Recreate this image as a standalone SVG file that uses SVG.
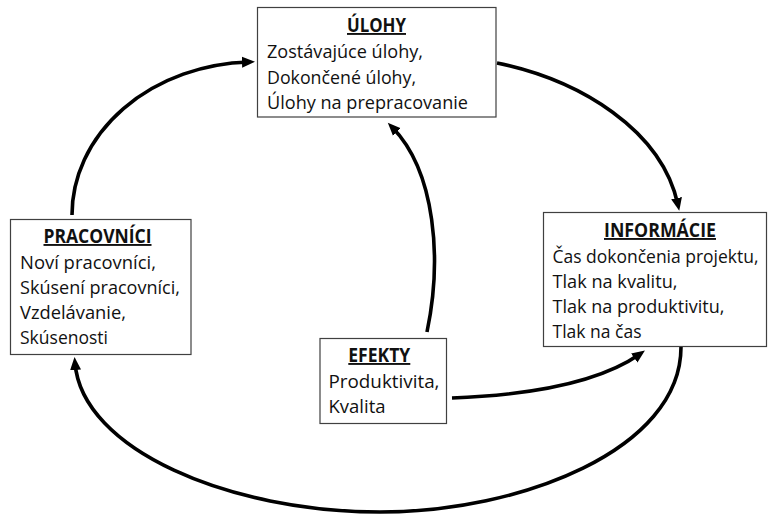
<svg xmlns="http://www.w3.org/2000/svg" width="768" height="514" viewBox="0 0 768 514">
<style>
.box{fill:#fff;stroke:#404040;stroke-width:1.2}
.t{font-family:"Open Sans","Liberation Sans",sans-serif;font-size:19px;fill:#111}
.s{font-size:18px}
.h{font-weight:bold;text-anchor:middle;text-decoration:underline}
.c{fill:none;stroke:#000;stroke-width:3.6;stroke-linecap:butt}
</style>
<defs>
<marker id="ah" markerUnits="userSpaceOnUse" markerWidth="14" markerHeight="12" refX="7" refY="6" orient="auto">
<path d="M0,0.5 L13,6 L0,11.5 z" fill="#000"/>
</marker>
</defs>
<rect width="768" height="514" fill="#fff"/>
<g id="connectors">
<path class="c" d="M72,215 A183,153 0 0 1 249,62" marker-end="url(#ah)"/>
<path class="c" d="M497,63 C580,80 662,130 678,205" marker-end="url(#ah)"/>
<path class="c" d="M681,347 C681,450 520,512 380,512 C230,512 82,450 75,363" marker-end="url(#ah)"/>
<path class="c" d="M427,332 C442,260 436,172 392,127" marker-end="url(#ah)"/>
<path class="c" d="M452,398 C530,395 600,382 640,354" marker-end="url(#ah)"/>
</g>
<g id="ulohy">
<rect class="box" x="257.5" y="7.5" width="238.5" height="109.5"/>
<text class="t h" x="376.5" y="32" textLength="59" lengthAdjust="spacingAndGlyphs">ÚLOHY</text>
<text class="t" x="267" y="58" textLength="156" lengthAdjust="spacingAndGlyphs">Zostávajúce úlohy,</text>
<text class="t" x="267" y="84" textLength="149" lengthAdjust="spacingAndGlyphs">Dokončené úlohy,</text>
<text class="t" x="267" y="109" textLength="201" lengthAdjust="spacingAndGlyphs">Úlohy na prepracovanie</text>
</g>
<g id="pracovnici">
<rect class="box" x="10.5" y="219.5" width="180.5" height="135"/>
<text class="t h" x="97.5" y="243" textLength="108" lengthAdjust="spacingAndGlyphs">PRACOVNÍCI</text>
<text class="t" x="20" y="269" textLength="136" lengthAdjust="spacingAndGlyphs">Noví pracovníci,</text>
<text class="t" x="20" y="294" textLength="160" lengthAdjust="spacingAndGlyphs">Skúsení pracovníci,</text>
<text class="t" x="20" y="319" textLength="106" lengthAdjust="spacingAndGlyphs">Vzdelávanie,</text>
<text class="t" x="20" y="344" textLength="88" lengthAdjust="spacingAndGlyphs">Skúsenosti</text>
</g>
<g id="informacie">
<rect class="box" x="543.5" y="212.5" width="223" height="134"/>
<text class="t h" x="660" y="237" textLength="112" lengthAdjust="spacingAndGlyphs">INFORMÁCIE</text>
<text class="t s" x="552.5" y="263" textLength="206" lengthAdjust="spacingAndGlyphs">Čas dokončenia projektu,</text>
<text class="t" x="552.5" y="288" textLength="125" lengthAdjust="spacingAndGlyphs">Tlak na kvalitu,</text>
<text class="t" x="552.5" y="313" textLength="172" lengthAdjust="spacingAndGlyphs">Tlak na produktivitu,</text>
<text class="t" x="552.5" y="338" textLength="89" lengthAdjust="spacingAndGlyphs">Tlak na čas</text>
</g>
<g id="efekty">
<rect class="box" x="320" y="338.5" width="126.5" height="85"/>
<text class="t h" x="379.3" y="362" textLength="62" lengthAdjust="spacingAndGlyphs">EFEKTY</text>
<text class="t" x="328.5" y="388" textLength="111" lengthAdjust="spacingAndGlyphs">Produktivita,</text>
<text class="t" x="328.5" y="413" textLength="57" lengthAdjust="spacingAndGlyphs">Kvalita</text>
</g>
</svg>
